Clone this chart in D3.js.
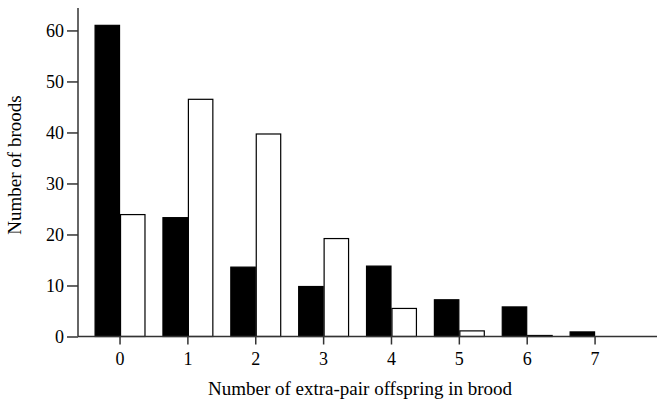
<!DOCTYPE html>
<html>
<head>
<meta charset="utf-8">
<script src="https://cdn.jsdelivr.net/npm/d3@7"></script>
<style>
  body { margin: 0; background: #fff; }
  svg text { font-family: "Times New Roman", "Liberation Serif", "DejaVu Serif", serif; }
</style>
</head>
<body>
<svg id="chart" width="657" height="402"></svg>
<script>
// categories: number of extra-pair offspring in a brood
var categories = ["0", "1", "2", "3", "4", "5", "6", "7"];
// black bars (observed) and white bars (expected)
var observed = [61, 23.3, 13.6, 9.8, 13.8, 7.2, 5.8, 0.9];
var expected = [23.9, 46.5, 39.7, 19.2, 5.5, 1.1, 0.2, 0];
var yTicks = [0, 10, 20, 30, 40, 50, 60];

var series = ["observed", "expected"];
var fills = { observed: "#000", expected: "#fff" };
var serif = "'Times New Roman', 'Liberation Serif', serif";

var svg = d3.select("#chart");

// x positions of the groups, tick in the middle of each pair
var x = d3.scaleBand()
  .domain(categories)
  .range([86.1, 629])
  .paddingInner(0.25)
  .paddingOuter(0.125);

var xSub = d3.scaleBand()
  .domain(series)
  .range([0, x.bandwidth()]);

var y = d3.scaleLinear()
  .domain([0, 64.4])
  .range([336.5, 8]);

var rows = categories.map(function(c, i) {
  return { cat: c, observed: observed[i], expected: expected[i] };
});

// bars
var groups = svg.append("g").selectAll("g")
  .data(rows)
  .enter()
  .append("g")
  .attr("transform", d => `translate(${x(d.cat)},0)`);

groups.selectAll("rect")
  .data(d => series.map(s => ({ key: s, value: d[s] })))
  .enter()
  .append("rect")
  .attr("x", d => xSub(d.key) + 0.5)
  .attr("width", xSub.bandwidth() - 1)
  .attr("y", d => y(d.value))
  .attr("height", d => y(0) - y(d.value))
  .attr("fill", d => fills[d.key])
  .attr("stroke", "#000")
  .attr("stroke-width", 1.2);

// y axis
var yAxis = svg.append("g")
  .attr("transform", "translate(78,0)")
  .call(d3.axisLeft(y).tickValues(yTicks).tickSize(11).tickSizeOuter(0).tickPadding(3));

yAxis.select(".domain").remove();
yAxis.append("line")
  .attr("x1", 0).attr("x2", 0)
  .attr("y1", 8).attr("y2", y(0));

// x axis
var xAxis = svg.append("g")
  .attr("transform", `translate(0,${y(0)})`)
  .call(d3.axisBottom(x).tickSize(8).tickSizeOuter(0).tickPadding(8));

xAxis.select(".domain").remove();
xAxis.append("line")
  .attr("x1", 78).attr("x2", 657)
  .attr("y1", 0).attr("y2", 0);

svg.selectAll("g").attr("font-family", serif).attr("font-size", 18);

svg.selectAll(".tick line, g > line")
  .attr("stroke", "#333")
  .attr("stroke-width", 1.5);

svg.selectAll(".tick text")
  .attr("fill", "#000");

// axis titles
svg.append("text")
  .attr("transform", "translate(21,165) rotate(-90)")
  .attr("text-anchor", "middle")
  .attr("font-family", serif)
  .attr("font-size", 19)
  .text("Number of broods");

svg.append("text")
  .attr("x", 360)
  .attr("y", 395)
  .attr("text-anchor", "middle")
  .attr("font-family", serif)
  .attr("font-size", 19)
  .text("Number of extra-pair offspring in brood");
</script>
</body>
</html>
